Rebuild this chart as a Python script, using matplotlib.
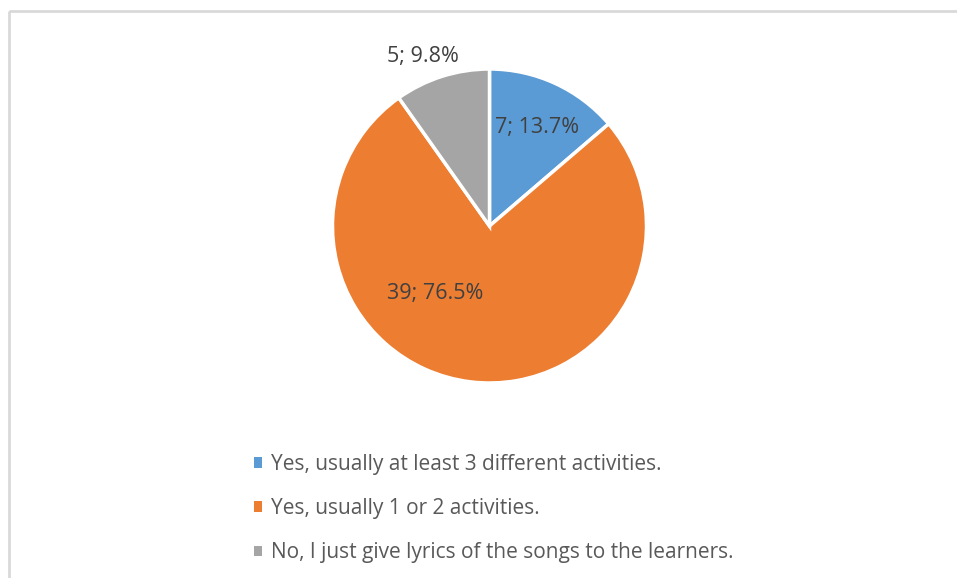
import matplotlib
matplotlib.use('Agg')
import matplotlib.pyplot as plt
from matplotlib.patches import Rectangle
import numpy as np

plt.rcParams['font.family'] = ['Open Sans', 'DejaVu Sans']

# ---- data ----
categories = ['Yes, usually at least 3 different activities.',
              'Yes, usually 1 or 2 activities.',
              'No, I just give lyrics of the songs to the learners.']
counts = [7, 39, 5]
colors = ['#5b9bd5', '#ed7d31', '#a5a5a5']
text_c = '#595959'

W, H = 957, 578
fig = plt.figure(figsize=(W / 100, H / 100), dpi=100)
ax = fig.add_axes([0, 0, 1, 1])

cx, cy, r = 489.5, H - 226, 157
wedges, _ = ax.pie(counts, colors=colors, startangle=90, counterclock=False,
                   center=(cx, cy), radius=r,
                   wedgeprops=dict(edgecolor='white', linewidth=2.5))

ax.set_xlim(0, W)
ax.set_ylim(0, H)
ax.set_aspect('equal')
ax.axis('off')

# chart-area frame (only top and left visible in the crop)
ax.add_patch(Rectangle((9, H - 11), 1000, -700, fill=False,
                       edgecolor='#d9d9d9', linewidth=2))

total = sum(counts)
# label placement: (angle deg, distance as fraction of radius)
label_pos = [(64.7, 0.715), (-130.2, 0.54), (111.1, 1.175)]
for n, (ang, d) in zip(counts, label_pos):
    a = np.deg2rad(ang)
    ax.text(cx + d * r * np.cos(a), cy + d * r * np.sin(a),
            f'{n}; {100 * n / total:.1f}%', ha='center', va='center_baseline',
            fontsize=15.5, color='#404040')

leg = ax.legend(wedges, categories, loc='upper left',
                bbox_to_anchor=(254 / W, 1 - 454 / H), frameon=False,
                fontsize=15, labelcolor=text_c, borderpad=0, borderaxespad=0,
                handlelength=0.4, handleheight=0.4, handletextpad=0.4,
                labelspacing=1.11)
for h in leg.legend_handles:
    h.set_edgecolor('none')

fig.savefig('out.png', dpi=100, facecolor='white')
